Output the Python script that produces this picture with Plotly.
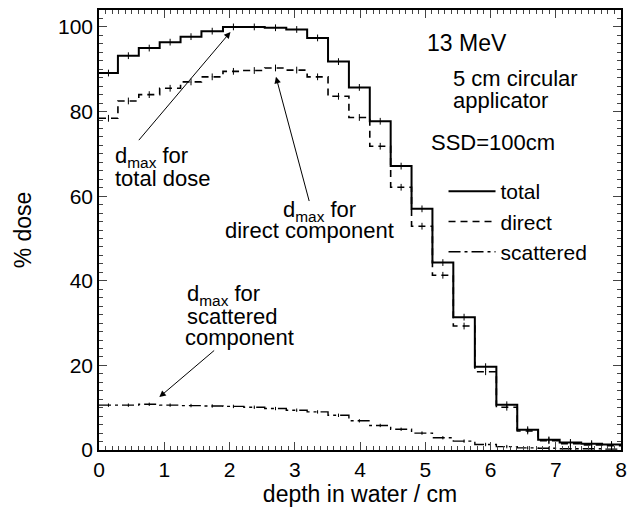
import plotly.graph_objects as go

# ---- data ----
bin_edges = [0, 0.29, 0.61, 0.93, 1.25, 1.57, 1.90, 2.22, 2.54, 2.87, 3.19, 3.51, 3.83,
             4.15, 4.47, 4.79, 5.11, 5.43, 5.76, 6.09, 6.41, 6.73, 7.06, 7.39, 7.71, 8.0]
total_dose = [89.1, 93.2, 95.0, 96.4, 97.7, 99.0, 100.0, 100.0, 99.8, 99.4, 97.4, 91.8, 85.7,
              77.7, 67.1, 57.0, 44.3, 31.4, 19.7, 10.7, 4.8, 2.4, 1.8, 1.5, 1.3]
direct_dose = [78.4, 82.5, 84.0, 85.5, 87.0, 88.2, 89.5, 89.7, 90.3, 89.8, 88.2, 83.6, 78.6,
               71.8, 62.1, 52.9, 41.3, 29.3, 18.5, 10.1, 4.5, 2.2, 1.5, 1.2, 1.0]
scattered_dose = [10.6, 10.6, 10.8, 10.6, 10.5, 10.4, 10.3, 10.1, 9.8, 9.4, 9.0, 8.2, 6.9,
                  5.8, 4.9, 4.0, 2.9, 2.1, 1.3, 0.8, 0.5, 0.4, 0.3, 0.3, 0.2]
err_main = 0.8
err_scat = 0.4
x_ticks = [0, 1, 2, 3, 4, 5, 6, 7, 8]
y_ticks = [0, 20, 40, 60, 80, 100]

FONT = "Liberation Sans, Arial, Helvetica, sans-serif"
centers = [(bin_edges[i] + bin_edges[i + 1]) / 2 for i in range(len(bin_edges) - 1)]


def step(vals):
    return list(bin_edges), list(vals) + [vals[-1]]


fig = go.Figure()
series = [("total", total_dose, "solid", 2.0, err_main),
          ("direct", direct_dose, "7px,5px", 1.6, err_main),
          ("scattered", scattered_dose, "12px,4px,3px,4px", 1.4, err_scat)]
for name, vals, dash, w, e in series:
    xs, ys = step(vals)
    fig.add_trace(go.Scatter(x=xs, y=ys, mode="lines", line_shape="hv", name=name,
                             line=dict(color="black", width=w, dash=dash)))
    fig.add_trace(go.Scatter(x=centers, y=vals, mode="markers", showlegend=False,
                             marker=dict(size=1, color="black"),
                             error_y=dict(type="constant", value=e, width=0,
                                          thickness=1, color="black")))

ann = []
def txt(x, y, s, xanchor="center", size=22):
    ann.append(dict(x=x, y=y, xref="x", yref="y", text=s, showarrow=False,
                    xanchor=xanchor, yanchor="middle",
                    font=dict(family=FONT, size=size, color="black")))

def px2x(p):
    return (p - 99) / 66.0

def py2y(p):
    return (451 - p) / 4.24

txt(px2x(471), py2y(43), "13 MeV", size=23)
txt(px2x(455), py2y(79), "5 cm circular", "left")
txt(px2x(455), py2y(101), "applicator", "left")
txt(px2x(433), py2y(143), "SSD=100cm", "left")
txt(px2x(113), py2y(157), "d<sub>max</sub> for", "left")
txt(px2x(113), py2y(179), "total dose", "left")
txt(px2x(322), py2y(211), "d<sub>max</sub> for")
txt(px2x(312), py2y(231), "direct component")
txt(px2x(186), py2y(296), "d<sub>max</sub> for", "left")
txt(px2x(186), py2y(317), "scattered", "left")
txt(px2x(184), py2y(338), "component", "left")

for (hx, hy), (tx, ty) in [((232, 32), (138, 142)), ((278, 77), (312, 203)),
                           ((160, 398), (217, 350))]:
    ann.append(dict(x=px2x(hx), y=py2y(hy), ax=px2x(tx), ay=py2y(ty),
                    xref="x", yref="y", axref="x", ayref="y", text="",
                    showarrow=True, arrowhead=2, arrowsize=1.3, arrowwidth=1,
                    arrowcolor="black", standoff=0, startstandoff=0))

fig.update_layout(
    width=635, height=511,
    margin=dict(l=99, r=8, t=10, b=60),
    paper_bgcolor="white", plot_bgcolor="white",
    font=dict(family=FONT, size=21, color="black"),
    annotations=ann,
    legend=dict(x=0.66, y=0.634, xanchor="left", yanchor="top",
                bgcolor="rgba(0,0,0,0)", itemwidth=47,
                font=dict(family=FONT, size=21, color="black")),
    xaxis=dict(range=[0, 8], tickvals=x_ticks, ticks="inside", ticklen=8,
               showline=True, linewidth=1.5, linecolor="black", mirror="allticks",
               showgrid=False, zeroline=False, tickwidth=1,
               minor=dict(dtick=0.1, ticks="inside", ticklen=4, showgrid=False),
               title=dict(text="depth in water / cm", font=dict(size=23), standoff=6)),
    yaxis=dict(range=[0, 104], tickvals=y_ticks, ticks="inside", ticklen=8,
               showline=True, linewidth=1.5, linecolor="black", mirror="allticks",
               showgrid=False, zeroline=False, tickwidth=1,
               minor=dict(dtick=2, ticks="inside", ticklen=4, showgrid=False),
               title=dict(text="% dose", font=dict(size=23), standoff=20)),
)

fig.write_html("out.html")
